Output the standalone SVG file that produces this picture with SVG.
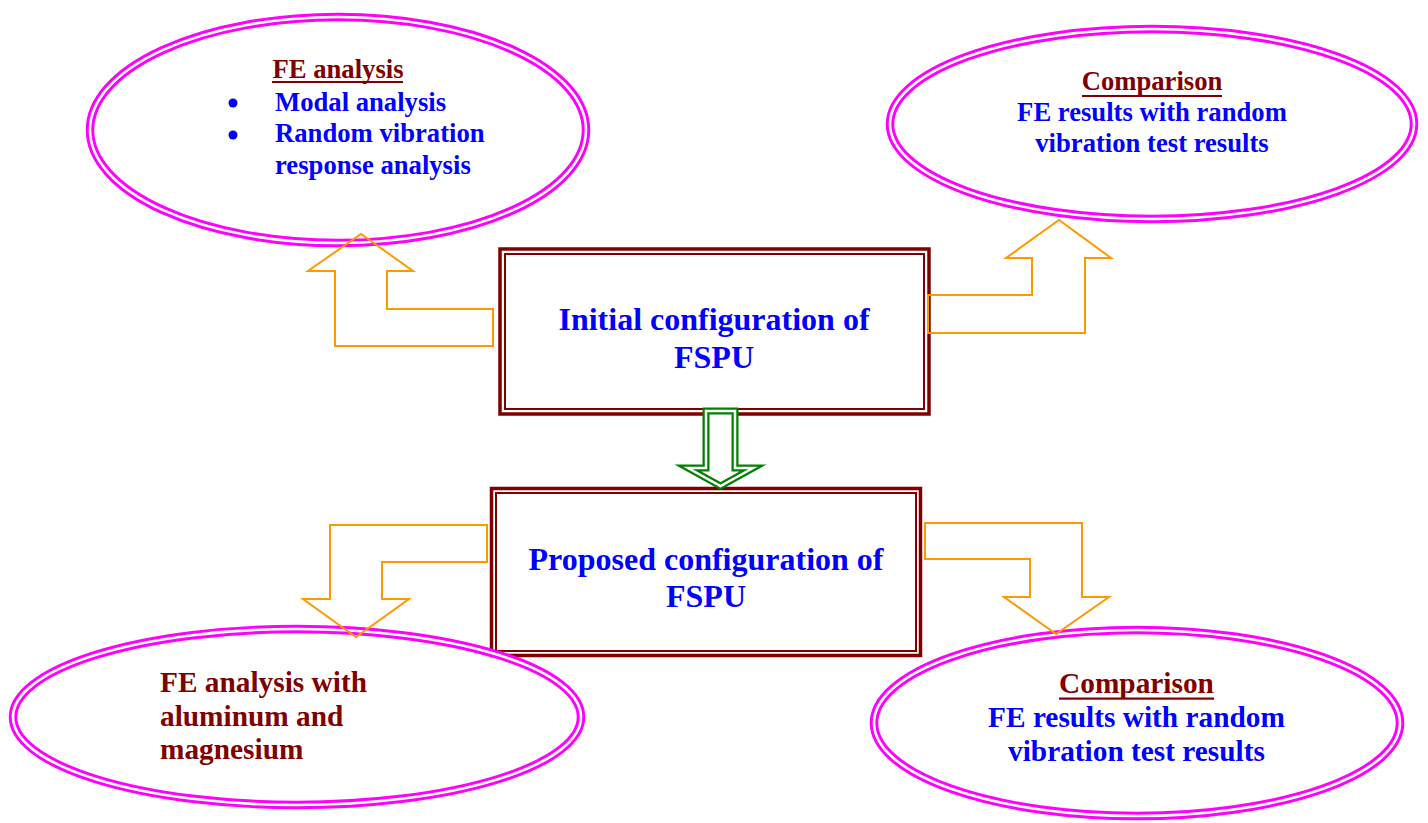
<svg xmlns="http://www.w3.org/2000/svg" width="1428" height="823" viewBox="0 0 1428 823">
<style>
  .t { font-family: "Liberation Serif", "Times New Roman", serif; font-weight: bold; }
  .blue { fill: #0000FF; }
  .red { fill: #800000; }
  .ell { fill: none; stroke: #FF00FF; stroke-width: 8.5; }
  .ellIn { fill: none; stroke: #FFFFFF; stroke-width: 2.6; }
  .boxOut { fill: #FFFFFF; stroke: #800000; stroke-width: 3.5; }
  .boxIn { fill: none; stroke: #800000; stroke-width: 2; }
  .orange { fill: none; stroke: #FF9900; stroke-width: 2; stroke-linejoin: miter; }
  .grn { fill: #FFFFFF; stroke: #008000; stroke-width: 7; stroke-linejoin: miter; }
  .grnIn { fill: none; stroke: #FFFFFF; stroke-width: 2.5; stroke-linejoin: miter; }
</style>
<rect width="1428" height="823" fill="#FFFFFF"/>

<g id="initial-box">
  <rect class="boxOut" x="500" y="249" width="429" height="165"/>
  <rect class="boxIn" x="505" y="254" width="419" height="155"/>
  <text class="t blue" font-size="32" text-anchor="middle" x="714" y="330">Initial configuration of</text>
  <text class="t blue" font-size="32" text-anchor="middle" x="714" y="368">FSPU</text>
</g>

<g id="proposed-box">
  <rect class="boxOut" x="491.5" y="488.5" width="429" height="167"/>
  <rect class="boxIn" x="496" y="493" width="420" height="158"/>
  <text class="t blue" font-size="32" text-anchor="middle" x="706" y="570">Proposed configuration of</text>
  <text class="t blue" font-size="32" text-anchor="middle" x="706" y="607">FSPU</text>
</g>

<g id="fe-analysis">
  <ellipse class="ell" cx="338" cy="130" rx="248" ry="113"/>
  <ellipse class="ellIn" cx="338" cy="130" rx="248" ry="113"/>
  <text class="t red" font-size="26.67" text-anchor="middle" x="338" y="78">FE analysis</text>
  <rect x="272" y="81" width="131" height="2" fill="#800000"/>
  <circle cx="233" cy="103" r="4.5" fill="#0000FF"/>
  <circle cx="233" cy="135" r="4.5" fill="#0000FF"/>
  <text class="t blue" font-size="26.67" x="275" y="111">Modal analysis</text>
  <text class="t blue" font-size="26.67" x="275" y="142">Random vibration</text>
  <text class="t blue" font-size="26.67" x="275" y="174">response analysis</text>
</g>

<g id="comparison-top">
  <ellipse class="ell" cx="1152" cy="124" rx="262" ry="95"/>
  <ellipse class="ellIn" cx="1152" cy="124" rx="262" ry="95"/>
  <text class="t red" font-size="26.67" text-anchor="middle" x="1152" y="90">Comparison</text>
  <rect x="1082" y="95" width="140" height="2" fill="#800000"/>
  <text class="t blue" font-size="26.67" text-anchor="middle" x="1152" y="121">FE results with random</text>
  <text class="t blue" font-size="26.67" text-anchor="middle" x="1152" y="152">vibration test results</text>
</g>

<g id="fe-materials">
  <ellipse class="ell" cx="297" cy="717" rx="284" ry="88"/>
  <ellipse class="ellIn" cx="297" cy="717" rx="284" ry="88"/>
  <text class="t red" font-size="29.33" x="160" y="692">FE analysis with</text>
  <text class="t red" font-size="29.33" x="160" y="726">aluminum and</text>
  <text class="t red" font-size="29.33" x="160" y="759">magnesium</text>
</g>

<g id="comparison-bottom">
  <ellipse class="ell" cx="1137" cy="723" rx="263" ry="93"/>
  <ellipse class="ellIn" cx="1137" cy="723" rx="263" ry="93"/>
  <text class="t red" font-size="29.33" text-anchor="middle" x="1136.5" y="693">Comparison</text>
  <rect x="1059" y="697.5" width="155" height="2.2" fill="#800000"/>
  <text class="t blue" font-size="29.33" text-anchor="middle" x="1136.5" y="727">FE results with random</text>
  <text class="t blue" font-size="29.33" text-anchor="middle" x="1136.5" y="761">vibration test results</text>
</g>

<g id="connectors">
  <polygon class="orange" points="493,309 387,309 387,271 413,271 361,234 308,271 335,271 335,346 493,346"/>
  <polygon class="orange" points="928,295 1032,295 1032,258 1006,258 1059,220 1111,258 1085,258 1085,333 928,333"/>
  <polygon class="orange" points="487,525 330,525 330,599 303,599 356,637 409,599 382,599 382,562 487,562"/>
  <polygon class="orange" points="925,523 1082,523 1082,597 1109,597 1056,634 1004,597 1030,597 1030,559 925,559"/>
  <polygon class="grn" points="706,411 735,411 735,468 753,468 720.5,486 688,468 706,468"/>
  <polygon class="grnIn" points="706,411 735,411 735,468 753,468 720.5,486 688,468 706,468"/>
</g>
</svg>
